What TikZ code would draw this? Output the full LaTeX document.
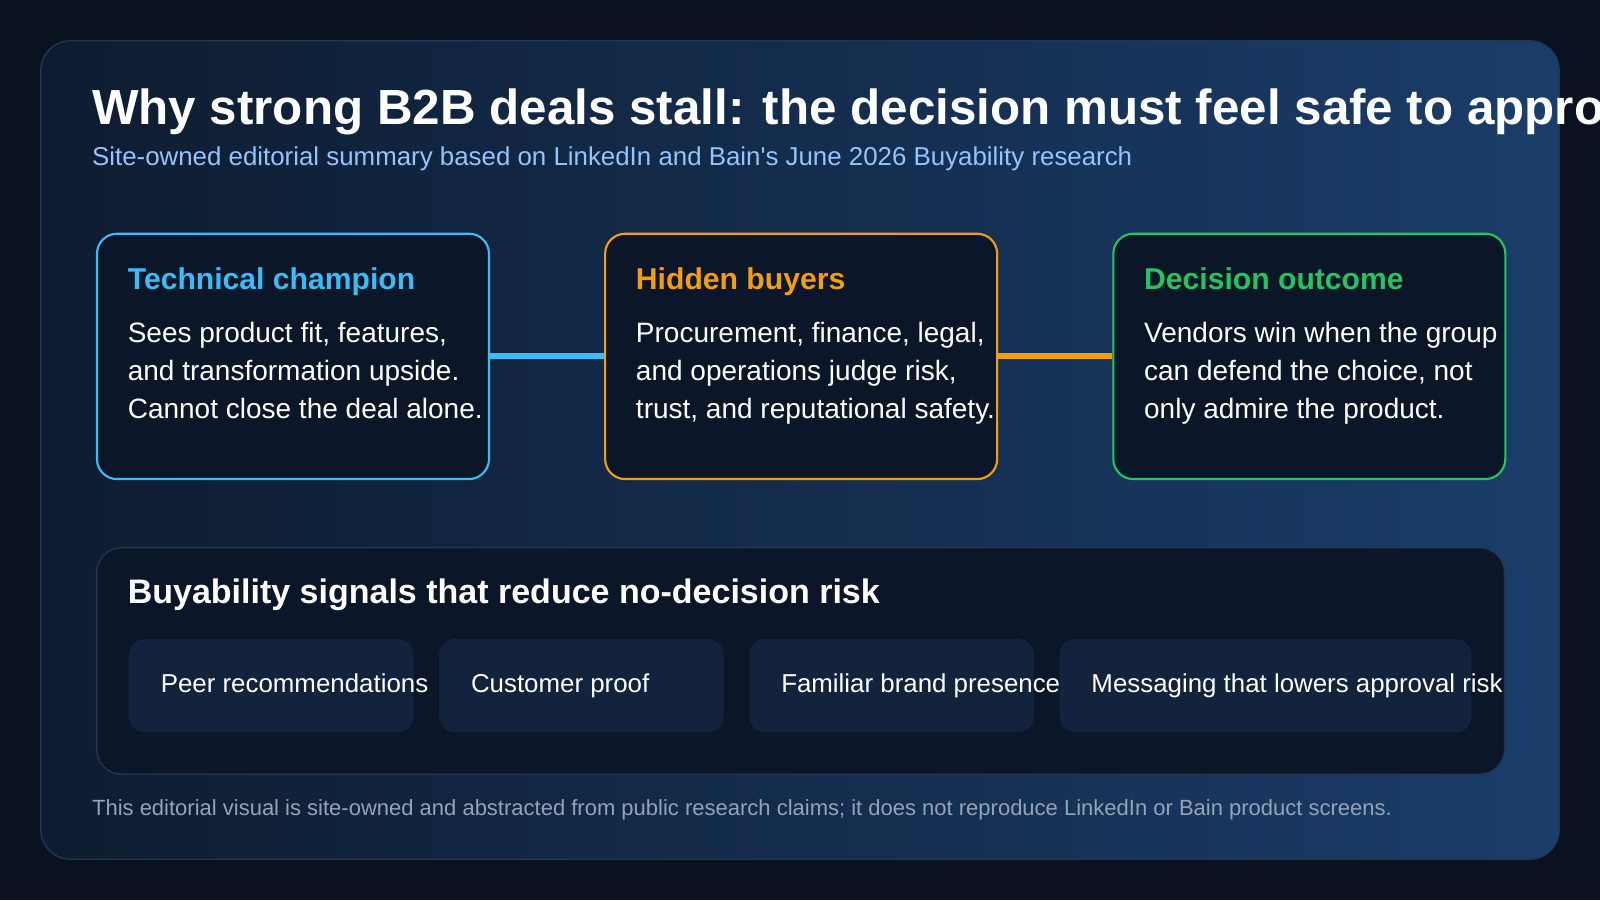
\documentclass[tikz,border=0pt]{standalone}
\usepackage{fontspec}
\setmainfont{Liberation Sans}
\usetikzlibrary{positioning}

\definecolor{pagebg}{HTML}{0A1220}
\definecolor{panelA}{HTML}{0E1C30}
\definecolor{panelB}{HTML}{1A3D6A}
\definecolor{panelline}{HTML}{243650}
\definecolor{cardbg}{HTML}{0B1628}
\definecolor{chipbg}{HTML}{13223D}
\definecolor{techblue}{HTML}{38BDF8}
\definecolor{hidorange}{HTML}{F59E0B}
\definecolor{decgreen}{HTML}{22C55E}
\definecolor{subblue}{HTML}{93C5FD}
\definecolor{footgrey}{HTML}{94A3B8}

\begin{document}
\begin{tikzpicture}[
    x=0.7653pt, y=-0.7653pt,
    card/.style={draw, line width=1.6pt, rounded corners=15pt, fill=cardbg, minimum width=294pt, minimum height=184pt, anchor=north west},
    cardhead/.style={anchor=base west, text=#1, inner sep=0pt, font=\bfseries\fontsize{22.6}{27}\selectfont},
    cardbody/.style={anchor=base west, text=white, align=left, inner sep=0pt, font=\fontsize{21}{28.4}\selectfont},
    chip/.style={fill=chipbg, rounded corners=12pt, minimum height=70pt, anchor=north west},
    chiptext/.style={anchor=west, text=white, inner sep=0pt, text height=14pt, text depth=4pt, font=\fontsize{19.4}{23}\selectfont},
    link/.style={line width=4.6pt, #1},
]

% Page and panel
\fill[pagebg] (0,0) rectangle (1568,882);
\useasboundingbox (0,0) rectangle (1568,882);
\shade[left color=panelA, right color=panelB, rounded corners=22pt] (40,40) rectangle (1528,842);
\draw[panelline, line width=1pt, rounded corners=22pt] (40,40) rectangle (1528,842);

% Title
\node[anchor=base west, text=white, font=\bfseries\fontsize{37}{44}\selectfont, inner sep=0pt] (title) at (90,122) {Why strong B2B deals stall: the decision must feel safe to approve};
\node[anchor=base west, text=subblue, font=\fontsize{19.4}{23}\selectfont, inner sep=0pt] (subtitle) at (90,162) {Site-owned editorial summary based on LinkedIn and Bain\textquotesingle s June 2026 Buyability research};

% === Cards ===
\node[card, draw=techblue] (tech) at (94,228) {};
\node[card, draw=hidorange] (hidden) at (592,228) {};
\node[card, draw=decgreen] (outcome) at (1090,228) {};

\node[cardhead=techblue] (techhead) at (125,284) {Technical champion};
\node[cardbody] (techbody) at (125,410) {Sees product fit, features,\\and transformation upside.\\Cannot close the deal alone.};

\node[cardhead=hidorange] (hiddenhead) at (623,284) {Hidden buyers};
\node[cardbody] (hiddenbody) at (623,410) {Procurement, finance, legal,\\and operations judge risk,\\trust, and reputational safety.};

\node[cardhead=decgreen] (outcomehead) at (1121,284) {Decision outcome};
\node[cardbody] (outcomebody) at (1121,410) {Vendors win when the group\\can defend the choice, not\\only admire the product.};

% Connectors
\draw[link=techblue] (tech.east) -- (hidden.west);
\draw[link=hidorange] (hidden.east) -- (outcome.west);

% === Signals panel ===
\node[draw=panelline, line width=1pt, fill=cardbg, rounded corners=19pt, minimum width=1056pt, minimum height=170pt, anchor=north west] (signals) at (94,536) {};
\node[anchor=base west, text=white, font=\bfseries\fontsize{25.5}{30}\selectfont, inner sep=0pt] (signalshead) at (125,591) {Buyability signals that reduce no-decision risk};

\node[chip, minimum width=213.5pt] (peer) at (126,626) {};
\node[chip, minimum width=213.5pt] (proof) at (430,626) {};
\node[chip, minimum width=213.5pt] (brand) at (734,626) {};
\node[chip, minimum width=309pt] (message) at (1038,626) {};
\node[chiptext, right=24pt of peer.west] (peertext) {Peer recommendations};
\node[chiptext, right=24pt of proof.west] (prooftext) {Customer proof};
\node[chiptext, right=24pt of brand.west] (brandtext) {Familiar brand presence};
\node[chiptext, right=24pt of message.west] (messagetext) {Messaging that lowers approval risk};

% Footer
\node[anchor=base west, text=footgrey, font=\fontsize{16.5}{19}\selectfont, inner sep=0pt] (footer) at (90,799) {This editorial visual is site-owned and abstracted from public research claims; it does not reproduce LinkedIn or Bain product screens.};

\end{tikzpicture}
\end{document}
